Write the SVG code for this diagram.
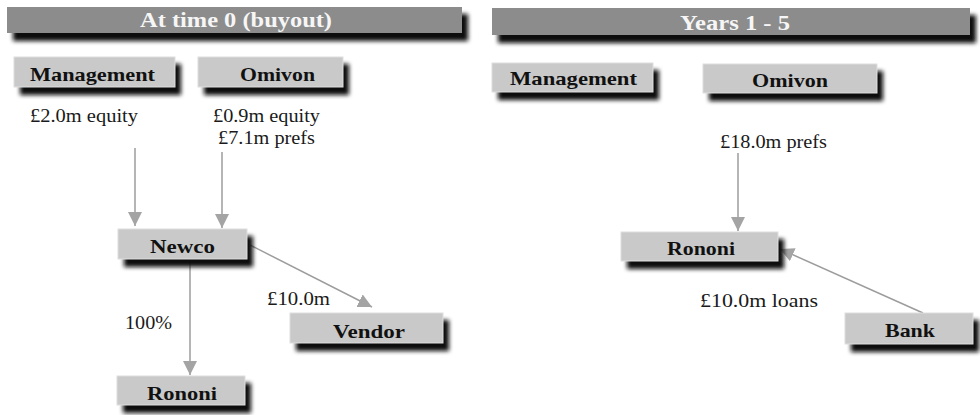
<svg xmlns="http://www.w3.org/2000/svg" width="980" height="415" viewBox="0 0 980 415">
  <style>
    .shadow { fill: #111111; filter: url(#blur); }
    .banner { fill: #8c8c8c; }
    .banner-text { font-weight: bold; font-size: 21px; fill: #f6f6f6; text-anchor: middle; }
    .box { fill: #c9c9c9; stroke: #dedede; stroke-width: 1; }
    .box-text { font-weight: bold; font-size: 19.5px; fill: #111; text-anchor: middle; }
    .label { font-size: 19px; fill: #1a1a1a; text-anchor: middle; }
    .conn { stroke: #9c9c9c; stroke-width: 1.5; fill: none; marker-end: url(#arrow); }
  </style>
  <defs>
    <filter id="blur" x="-20%" y="-50%" width="140%" height="200%">
      <feGaussianBlur stdDeviation="2"/>
    </filter>
    <marker id="arrow" markerUnits="userSpaceOnUse" markerWidth="14" markerHeight="14" refX="14" refY="7" orient="auto">
      <path d="M0,0 L14,7 L0,14 z" fill="#a4a4a4"/>
    </marker>
  </defs>

  <rect width="980" height="415" fill="#ffffff"/>

  <g font-family="Liberation Serif, Times New Roman, serif">
  <!-- Section headers -->
  <g id="header-time0">
    <rect class="shadow" x="13" y="14" width="455" height="27"/>
    <rect class="banner" x="7" y="7" width="455" height="26"/>
    <text class="banner-text" x="236" y="27" textLength="192" lengthAdjust="spacingAndGlyphs">At time 0 (buyout)</text>
  </g>
  <g id="header-years">
    <rect class="shadow" x="498" y="15" width="478" height="28"/>
    <rect class="banner" x="492" y="8" width="478" height="27"/>
    <text class="banner-text" x="735" y="30" textLength="110" lengthAdjust="spacingAndGlyphs">Years 1 - 5</text>
  </g>

  <!-- Connectors -->
  <g id="connectors">
    <line class="conn" x1="135" y1="148" x2="135" y2="226"/>
    <line class="conn" x1="222" y1="152" x2="222" y2="228"/>
    <line class="conn" x1="190" y1="260" x2="190" y2="375"/>
    <line class="conn" x1="250" y1="245" x2="372" y2="307"/>
    <line class="conn" x1="738" y1="153" x2="738" y2="231"/>
    <line class="conn" x1="923" y1="313" x2="780" y2="249"/>
  </g>

  <!-- Connector labels -->
  <g id="labels">
    <text class="label" x="84" y="122" textLength="108" lengthAdjust="spacingAndGlyphs">£2.0m equity</text>
    <text class="label" x="266.5" y="122" textLength="107" lengthAdjust="spacingAndGlyphs">£0.9m equity</text>
    <text class="label" x="266.5" y="144" textLength="97" lengthAdjust="spacingAndGlyphs">£7.1m prefs</text>
    <text class="label" x="298.5" y="305" textLength="63" lengthAdjust="spacingAndGlyphs">£10.0m</text>
    <text class="label" x="148.5" y="329" textLength="47" lengthAdjust="spacingAndGlyphs">100%</text>
    <text class="label" x="773.5" y="148" textLength="107" lengthAdjust="spacingAndGlyphs">£18.0m prefs</text>
    <text class="label" x="759" y="307" textLength="118" lengthAdjust="spacingAndGlyphs">£10.0m loans</text>
  </g>

  <!-- Nodes: buyout -->
  <g id="management-t0">
    <rect class="shadow" x="20" y="64" width="161" height="31"/>
    <rect class="box" x="14" y="57" width="161" height="30"/>
    <text class="box-text" x="92.5" y="81" textLength="125" lengthAdjust="spacingAndGlyphs">Management</text>
  </g>
  <g id="omivon-t0">
    <rect class="shadow" x="204" y="64" width="145" height="31"/>
    <rect class="box" x="198" y="57" width="145" height="30"/>
    <text class="box-text" x="277.5" y="81" textLength="75" lengthAdjust="spacingAndGlyphs">Omivon</text>
  </g>
  <g id="newco">
    <rect class="shadow" x="124" y="236" width="129" height="31"/>
    <rect class="box" x="118" y="229" width="129" height="30"/>
    <text class="box-text" x="182.5" y="253" textLength="65" lengthAdjust="spacingAndGlyphs">Newco</text>
  </g>
  <g id="rononi-t0">
    <rect class="shadow" x="123" y="383" width="128" height="30"/>
    <rect class="box" x="117" y="376" width="128" height="29"/>
    <text class="box-text" x="182" y="400" textLength="70" lengthAdjust="spacingAndGlyphs">Rononi</text>
  </g>
  <g id="vendor">
    <rect class="shadow" x="296" y="320" width="153" height="31"/>
    <rect class="box" x="290" y="313" width="153" height="30"/>
    <text class="box-text" x="369" y="338" textLength="72" lengthAdjust="spacingAndGlyphs">Vendor</text>
  </g>

  <!-- Nodes: years 1 - 5 -->
  <g id="management-y">
    <rect class="shadow" x="498" y="70" width="161" height="30"/>
    <rect class="box" x="492" y="63" width="161" height="29"/>
    <text class="box-text" x="573.5" y="85" textLength="127" lengthAdjust="spacingAndGlyphs">Management</text>
  </g>
  <g id="omivon-y">
    <rect class="shadow" x="709" y="71" width="174" height="30"/>
    <rect class="box" x="703" y="64" width="174" height="29"/>
    <text class="box-text" x="790" y="87" textLength="76" lengthAdjust="spacingAndGlyphs">Omivon</text>
  </g>
  <g id="rononi-y">
    <rect class="shadow" x="627" y="239" width="157" height="30"/>
    <rect class="box" x="621" y="232" width="157" height="29"/>
    <text class="box-text" x="701" y="255" textLength="68" lengthAdjust="spacingAndGlyphs">Rononi</text>
  </g>
  <g id="bank">
    <rect class="shadow" x="851" y="320" width="128" height="32"/>
    <rect class="box" x="845" y="313" width="128" height="31"/>
    <text class="box-text" x="910" y="337" textLength="50" lengthAdjust="spacingAndGlyphs">Bank</text>
  </g>
  </g>
</svg>
